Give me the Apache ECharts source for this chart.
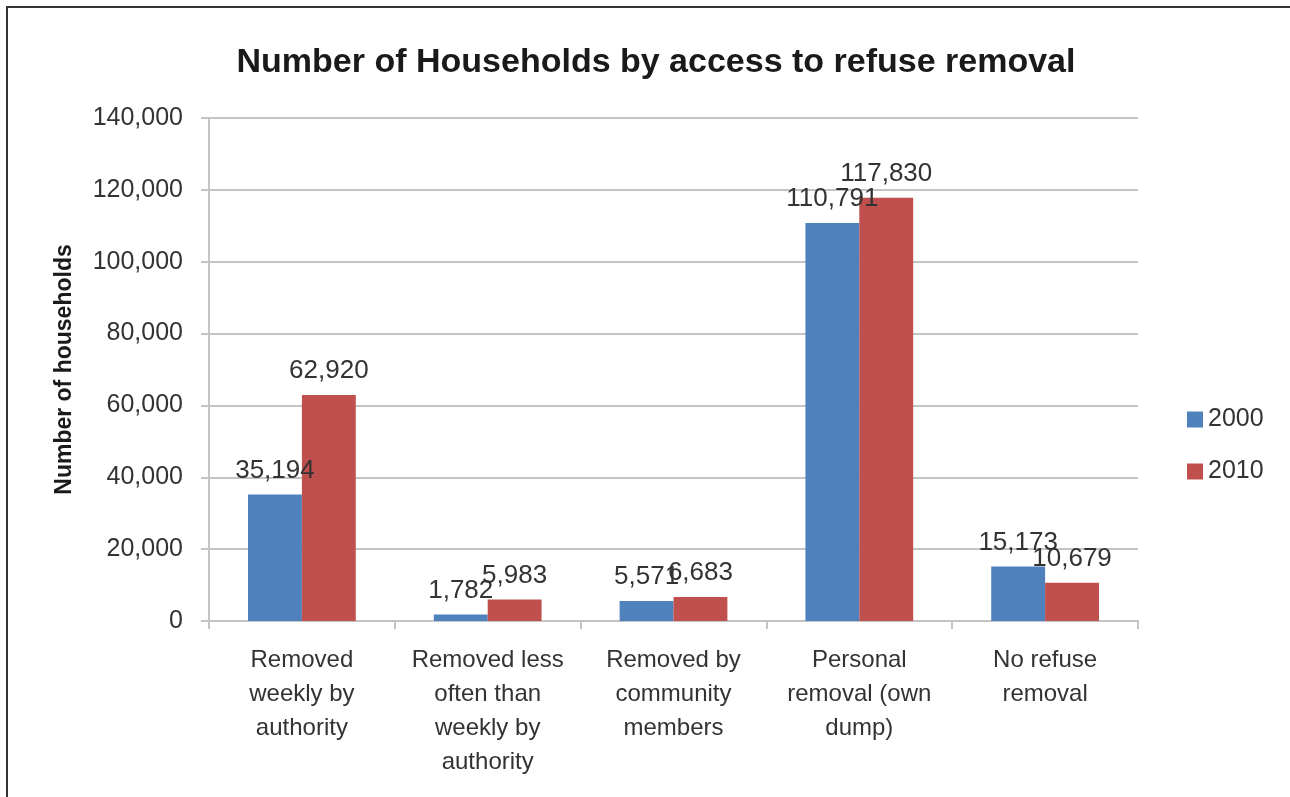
<!DOCTYPE html>
<html>
<head>
<meta charset="utf-8">
<script src="https://cdn.jsdelivr.net/npm/echarts@6/dist/echarts.min.js"></script>
<style>
  html, body { margin: 0; padding: 0; background: #fff; }
  #frame { position: absolute; left: 6px; top: 6px; width: 1290px; height: 800px;
           border-left: 2px solid #333; border-top: 2px solid #333; box-sizing: border-box; }
  #chart { position: absolute; left: 0; top: 0; width: 1290px; height: 797px; }
</style>
</head>
<body>
<div id="frame"></div>
<div id="chart"></div>
<script>
// categories on the x axis
var categories = [
    'Removed\nweekly by\nauthority',
    'Removed less\noften than\nweekly by\nauthority',
    'Removed by\ncommunity\nmembers',
    'Personal\nremoval (own\ndump)',
    'No refuse\nremoval'
];
var years = ['2000', '2010'];
var values2000 = [35194, 1782, 5571, 110791, 15173];
var values2010 = [62920, 5983, 6683, 117830, 10679];
var yTicks = [0, 20000, 40000, 60000, 80000, 100000, 120000, 140000];

var fmt = function (v) { return Number(v).toLocaleString('en-US'); };
var font = '"Liberation Sans", Arial, sans-serif';

var labelStyle = {
    show: true,
    position: 'top',
    distance: 11,
    fontFamily: font,
    fontSize: 26,
    color: '#333',
    formatter: function (p) { return fmt(p.value); }
};

var myChart = echarts.init(document.getElementById('chart'));

var option = {
    animation: false,
    title: {
        text: 'Number of Households by access to refuse removal',
        left: 651,
        textAlign: 'center',
        top: 41,
        textStyle: { fontFamily: font, fontSize: 34, fontWeight: 'bold', color: '#1a1a1a' }
    },
    legend: {
        orient: 'vertical',
        left: 1182,
        top: 402,
        icon: 'rect',
        itemWidth: 16,
        itemHeight: 16,
        itemGap: 27,
        data: years,
        textStyle: { fontFamily: font, fontSize: 25, color: '#333' }
    },
    grid: { left: 209, right: 152, top: 118, bottom: 176 },
    xAxis: {
        type: 'category',
        data: categories,
        axisLine: { lineStyle: { color: '#c4c4c4', width: 2 } },
        axisTick: { show: true, length: 8, lineStyle: { color: '#c4c4c4', width: 2 } },
        axisLabel: {
            interval: 0,
            margin: 22,
            lineHeight: 34,
            fontFamily: font,
            fontSize: 24,
            color: '#333'
        }
    },
    yAxis: {
        type: 'value',
        min: yTicks[0],
        max: yTicks[yTicks.length - 1],
        interval: 20000,
        name: 'Number of households',
        nameLocation: 'middle',
        nameGap: 133,
        nameTextStyle: { fontFamily: font, fontSize: 23, fontWeight: 'bold', color: '#1a1a1a' },
        axisLine: { show: true, lineStyle: { color: '#c4c4c4', width: 2 } },
        axisTick: { show: true, length: 8, lineStyle: { color: '#c4c4c4', width: 2 } },
        splitLine: { lineStyle: { color: '#c4c4c4', width: 2 } },
        axisLabel: {
            margin: 26,
            fontFamily: font,
            fontSize: 25,
            color: '#333',
            formatter: function (v) { return fmt(v); }
        }
    },
    series: [
        {
            name: years[0],
            type: 'bar',
            data: values2000,
            barGap: '0%',
            barCategoryGap: '42%',
            itemStyle: { color: '#4f81bd' },
            label: labelStyle
        },
        {
            name: years[1],
            type: 'bar',
            data: values2010,
            barGap: '0%',
            barCategoryGap: '42%',
            itemStyle: { color: '#c0504d' },
            label: labelStyle
        }
    ]
};
myChart.setOption(option);
</script>
</body>
</html>
